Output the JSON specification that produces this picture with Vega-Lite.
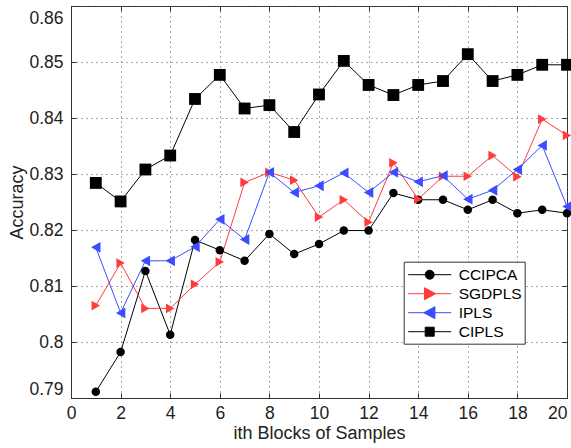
{
  "$schema": "https://vega.github.io/schema/vega-lite/v6.json",
  "width": 496,
  "height": 392,
  "autosize": {"type": "none"},
  "padding": {"left": 71, "top": 6, "right": 4, "bottom": 50},
  "background": "white",
  "config": {"font": "Liberation Sans", "view": {"stroke": "#333", "strokeWidth": 1}},
  "datasets": {
    "acc": [
      {"x": 1, "series": "CCIPCA", "y": 0.7911}, {"x": 2, "series": "CCIPCA", "y": 0.7982}, {"x": 3, "series": "CCIPCA", "y": 0.8127}, {"x": 4, "series": "CCIPCA", "y": 0.8013}, {"x": 5, "series": "CCIPCA", "y": 0.8182},
      {"x": 6, "series": "CCIPCA", "y": 0.8164}, {"x": 7, "series": "CCIPCA", "y": 0.8145}, {"x": 8, "series": "CCIPCA", "y": 0.8193}, {"x": 9, "series": "CCIPCA", "y": 0.8157}, {"x": 10, "series": "CCIPCA", "y": 0.8175},
      {"x": 11, "series": "CCIPCA", "y": 0.8199}, {"x": 12, "series": "CCIPCA", "y": 0.8199}, {"x": 13, "series": "CCIPCA", "y": 0.8266}, {"x": 14, "series": "CCIPCA", "y": 0.8254}, {"x": 15, "series": "CCIPCA", "y": 0.8254},
      {"x": 16, "series": "CCIPCA", "y": 0.8236}, {"x": 17, "series": "CCIPCA", "y": 0.8254}, {"x": 18, "series": "CCIPCA", "y": 0.8230}, {"x": 19, "series": "CCIPCA", "y": 0.8236}, {"x": 20, "series": "CCIPCA", "y": 0.8230},
      {"x": 1, "series": "SGDPLS", "y": 0.8065}, {"x": 2, "series": "SGDPLS", "y": 0.8141}, {"x": 3, "series": "SGDPLS", "y": 0.8060}, {"x": 4, "series": "SGDPLS", "y": 0.8060}, {"x": 5, "series": "SGDPLS", "y": 0.8103},
      {"x": 6, "series": "SGDPLS", "y": 0.8143}, {"x": 7, "series": "SGDPLS", "y": 0.8285}, {"x": 8, "series": "SGDPLS", "y": 0.8303}, {"x": 9, "series": "SGDPLS", "y": 0.8289}, {"x": 10, "series": "SGDPLS", "y": 0.8223},
      {"x": 11, "series": "SGDPLS", "y": 0.8254}, {"x": 12, "series": "SGDPLS", "y": 0.8214}, {"x": 13, "series": "SGDPLS", "y": 0.8320}, {"x": 14, "series": "SGDPLS", "y": 0.8255}, {"x": 15, "series": "SGDPLS", "y": 0.8296},
      {"x": 16, "series": "SGDPLS", "y": 0.8296}, {"x": 17, "series": "SGDPLS", "y": 0.8333}, {"x": 18, "series": "SGDPLS", "y": 0.8295}, {"x": 19, "series": "SGDPLS", "y": 0.8398}, {"x": 20, "series": "SGDPLS", "y": 0.8369},
      {"x": 1, "series": "IPLS", "y": 0.8169}, {"x": 2, "series": "IPLS", "y": 0.8052}, {"x": 3, "series": "IPLS", "y": 0.8145}, {"x": 4, "series": "IPLS", "y": 0.8145}, {"x": 5, "series": "IPLS", "y": 0.8170},
      {"x": 6, "series": "IPLS", "y": 0.8219}, {"x": 7, "series": "IPLS", "y": 0.8183}, {"x": 8, "series": "IPLS", "y": 0.8303}, {"x": 9, "series": "IPLS", "y": 0.8267}, {"x": 10, "series": "IPLS", "y": 0.8279},
      {"x": 11, "series": "IPLS", "y": 0.8302}, {"x": 12, "series": "IPLS", "y": 0.8267}, {"x": 13, "series": "IPLS", "y": 0.8303}, {"x": 14, "series": "IPLS", "y": 0.8286}, {"x": 15, "series": "IPLS", "y": 0.8297},
      {"x": 16, "series": "IPLS", "y": 0.8255}, {"x": 17, "series": "IPLS", "y": 0.8271}, {"x": 18, "series": "IPLS", "y": 0.8308}, {"x": 19, "series": "IPLS", "y": 0.8351}, {"x": 20, "series": "IPLS", "y": 0.8242},
      {"x": 1, "series": "CIPLS", "y": 0.8284}, {"x": 2, "series": "CIPLS", "y": 0.8251}, {"x": 3, "series": "CIPLS", "y": 0.8308}, {"x": 4, "series": "CIPLS", "y": 0.8333}, {"x": 5, "series": "CIPLS", "y": 0.8434},
      {"x": 6, "series": "CIPLS", "y": 0.8477}, {"x": 7, "series": "CIPLS", "y": 0.8417}, {"x": 8, "series": "CIPLS", "y": 0.8423}, {"x": 9, "series": "CIPLS", "y": 0.8375}, {"x": 10, "series": "CIPLS", "y": 0.8442},
      {"x": 11, "series": "CIPLS", "y": 0.8502}, {"x": 12, "series": "CIPLS", "y": 0.8459}, {"x": 13, "series": "CIPLS", "y": 0.8441}, {"x": 14, "series": "CIPLS", "y": 0.8459}, {"x": 15, "series": "CIPLS", "y": 0.8466},
      {"x": 16, "series": "CIPLS", "y": 0.8514}, {"x": 17, "series": "CIPLS", "y": 0.8466}, {"x": 18, "series": "CIPLS", "y": 0.8477}, {"x": 19, "series": "CIPLS", "y": 0.8495}, {"x": 20, "series": "CIPLS", "y": 0.8495}
    ]
  },
  "data": {"name": "acc"},
  "layer": [
    {
      "mark": {"type": "line", "strokeWidth": 1},
      "encoding": {
        "x": {
          "field": "x", "type": "quantitative",
          "scale": {"domain": [0, 20], "nice": false, "zero": false},
          "axis": {
            "orient": "bottom", "values": [0, 2, 4, 6, 8, 10, 12, 14, 16, 18, 20],
            "title": "ith Blocks of Samples", "grid": true, "gridDash": [1, 4], "gridColor": "#555", "gridOpacity": 1,
            "tickSize": -5, "tickColor": "#333", "domainColor": "#333", "labelFlush": false,
            "labelAlign": {"condition": {"test": "datum.value === 20", "value": "right"}, "value": "center"},
            "labelFontSize": 17.5, "labelColor": "#222", "labelPadding": 11.5, "labelFont": "Liberation Sans",
            "titleFontSize": 18, "titleFontWeight": "normal", "titleColor": "#222", "titlePadding": 2, "titleFont": "Liberation Sans"
          }
        },
        "y": {
          "field": "y", "type": "quantitative",
          "scale": {"domain": [0.79, 0.86], "nice": false, "zero": false},
          "axis": {
            "orient": "left", "values": [0.79, 0.8, 0.81, 0.82, 0.83, 0.84, 0.85, 0.86], "format": "~g",
            "title": "Accuracy", "grid": true, "gridDash": [1, 4], "gridColor": "#555", "gridOpacity": 1,
            "tickSize": -5, "tickColor": "#333", "domainColor": "#333", "labelFlush": true,
            "labelOffset": {"condition": {"test": "datum.value > 0.855", "value": 3}, "value": 0},
            "labelFontSize": 17.5, "labelColor": "#222", "labelPadding": 13, "labelFont": "Liberation Sans",
            "titleFontSize": 18, "titleFontWeight": "normal", "titleColor": "#222", "titlePadding": 2, "titleFont": "Liberation Sans"
          }
        },
        "color": {
          "field": "series", "type": "nominal",
          "scale": {"domain": ["CCIPCA", "SGDPLS", "IPLS", "CIPLS"], "range": ["#000000", "#ff3c3c", "#3c4cff", "#000000"]},
          "legend": null
        }
      }
    },
    {
      "mark": {"type": "point", "filled": true, "opacity": 1},
      "encoding": {
        "x": {"field": "x", "type": "quantitative", "scale": {"domain": [0, 20], "nice": false, "zero": false}, "axis": null},
        "y": {"field": "y", "type": "quantitative", "scale": {"domain": [0.79, 0.86], "nice": false, "zero": false}, "axis": null},
        "color": {"field": "series", "type": "nominal", "scale": {"domain": ["CCIPCA", "SGDPLS", "IPLS", "CIPLS"], "range": ["#000000", "#ff3c3c", "#3c4cff", "#000000"]}, "legend": null},
        "shape": {"field": "series", "type": "nominal", "scale": {"domain": ["CCIPCA", "SGDPLS", "IPLS", "CIPLS"], "range": ["circle", "triangle-right", "triangle-left", "square"]}, "legend": null},
        "size": {"field": "series", "type": "nominal", "scale": {"domain": ["CCIPCA", "SGDPLS", "IPLS", "CIPLS"], "range": [72, 140, 140, 70]}, "legend": null}
      }
    },
    {
      "transform": [{"filter": "datum.x > 100"}],
      "mark": {"type": "point", "filled": true, "opacity": 1, "strokeWidth": 1},
      "encoding": {
        "x": {"field": "x", "type": "quantitative", "axis": null},
        "y": {"field": "y", "type": "quantitative", "axis": null},
        "shape": {
          "field": "series", "type": "nominal",
          "scale": {"domain": ["CCIPCA", "SGDPLS", "IPLS", "CIPLS"], "range": [
            "M-2.263,0L2.263,0M-0.474,0A0.474,0.474,0,1,1,0.474,0A0.474,0.474,0,1,1,-0.474,0Z",
            "M-2.263,0L2.263,0M-0.55,-0.63L0.63,0L-0.55,0.63Z",
            "M-2.263,0L2.263,0M0.55,-0.63L-0.63,0L0.55,0.63Z",
            "M-2.263,0L2.263,0M-0.474,-0.474L0.474,-0.474L0.474,0.474L-0.474,0.474Z"
          ]},
          "legend": {"title": null, "orient": "none", "legendX": 332.7, "legendY": 255.7, "symbolSize": 361, "symbolStrokeWidth": 1, "symbolOpacity": 1,
            "labelFontSize": 15.5, "labelFont": "Liberation Sans", "labelColor": "#000", "labelLimit": 200,
            "strokeColor": "#333", "fillColor": "white", "padding": 3, "rowPadding": 0, "symbolOffset": 13, "labelOffset": 19}
        },
        "fill": {
          "field": "series", "type": "nominal",
          "scale": {"domain": ["CCIPCA", "SGDPLS", "IPLS", "CIPLS"], "range": ["#000000", "#ff3c3c", "#3c4cff", "#000000"]},
          "legend": {"title": null, "orient": "none", "legendX": 332.7, "legendY": 255.7, "symbolSize": 361, "symbolStrokeWidth": 1, "symbolOpacity": 1,
            "labelFontSize": 15.5, "labelFont": "Liberation Sans", "labelColor": "#000", "labelLimit": 200,
            "strokeColor": "#333", "fillColor": "white", "padding": 3, "rowPadding": 0, "symbolOffset": 13, "labelOffset": 19}
        },
        "stroke": {
          "field": "series", "type": "nominal",
          "scale": {"domain": ["CCIPCA", "SGDPLS", "IPLS", "CIPLS"], "range": ["#000000", "#ff3c3c", "#3c4cff", "#000000"]},
          "legend": {"title": null, "orient": "none", "legendX": 332.7, "legendY": 255.7, "symbolSize": 361, "symbolStrokeWidth": 1, "symbolOpacity": 1,
            "labelFontSize": 15.5, "labelFont": "Liberation Sans", "labelColor": "#000", "labelLimit": 200,
            "strokeColor": "#333", "fillColor": "white", "padding": 3, "rowPadding": 0, "symbolOffset": 13, "labelOffset": 19}
        }
      }
    },
    {
      "transform": [{"filter": "datum.x > 100"}],
      "mark": {"type": "point"},
      "encoding": {
        "x": {"field": "x", "type": "quantitative",
          "axis": {"orient": "top", "values": [0, 2, 4, 6, 8, 10, 12, 14, 16, 18, 20], "labels": false, "grid": false, "title": null, "tickSize": -5, "tickColor": "#333", "domain": false}},
        "y": {"field": "y", "type": "quantitative",
          "axis": {"orient": "right", "values": [0.79, 0.8, 0.81, 0.82, 0.83, 0.84, 0.85, 0.86], "labels": false, "grid": false, "title": null, "tickSize": -5, "tickColor": "#333", "domain": false}}
      }
    }
  ],
  "resolve": {
    "axis": {"x": "independent", "y": "independent"},
    "scale": {"shape": "independent", "fill": "independent", "stroke": "independent"}
  }
}
